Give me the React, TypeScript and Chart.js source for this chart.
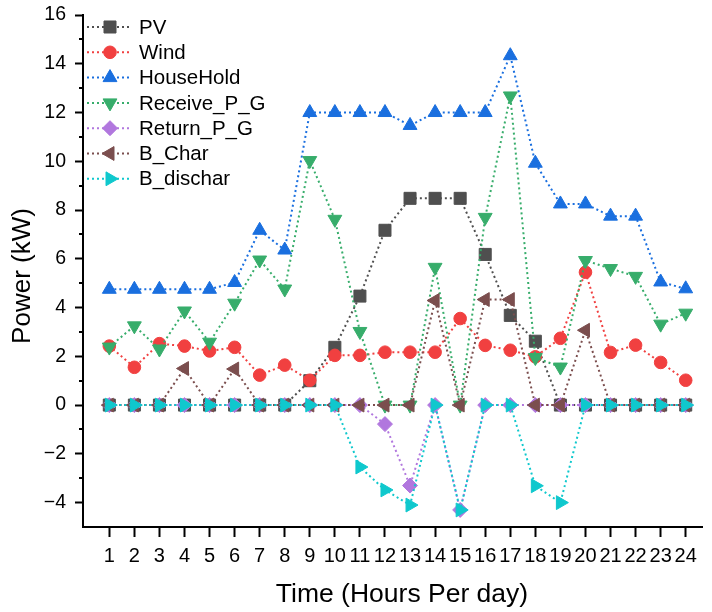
import React, { useEffect, useRef } from 'react';
import { Chart, registerables } from 'chart.js';
import { drawPoint } from 'chart.js/helpers';

Chart.register(...registerables);

// ---------- data ----------
const hours = [1, 2, 3, 4, 5, 6, 7, 8, 9, 10, 11, 12, 13, 14, 15, 16, 17, 18, 19, 20, 21, 22, 23, 24];

const pv = [0, 0, 0, 0, 0, 0, 0, 0, 1.0, 2.37, 4.47, 7.17, 8.48, 8.48, 8.48, 6.18, 3.68, 2.62, 0, 0, 0, 0, 0, 0];
const wind = [2.42, 1.55, 2.52, 2.42, 2.22, 2.37, 1.23, 1.64, 1.02, 2.04, 2.04, 2.17, 2.17, 2.17, 3.55, 2.45, 2.25, 1.98, 2.74, 5.45, 2.16, 2.46, 1.75, 1.02];
const houseHold = [4.75, 4.75, 4.75, 4.75, 4.75, 5.03, 7.17, 6.36, 12.0, 12.0, 12.0, 12.0, 11.47, 12.0, 12.0, 12.0, 14.33, 9.92, 8.25, 8.25, 7.75, 7.75, 5.05, 4.77];
const receivePG = [2.38, 3.25, 2.3, 3.86, 2.58, 4.18, 5.95, 4.76, 10.03, 7.62, 3.02, 0, 0, 5.65, 0, 7.7, 12.68, 1.95, 1.56, 5.93, 5.6, 5.28, 3.32, 3.77];
const returnPG = [0, 0, 0, 0, 0, 0, 0, 0, 0, 0, 0, -0.78, -3.3, 0, -4.3, 0, 0, 0, 0, 0, 0, 0, 0, 0];
const bChar = [0, 0, 0, 1.5, 0, 1.48, 0, 0, 0, 0, 0, 0, 0, 4.29, 0, 4.33, 4.33, 0, 0, 3.07, 0, 0, 0, 0];
const bDischar = [0, 0, 0, 0, 0, 0, 0, 0, 0, 0, -2.54, -3.48, -4.1, 0, -4.3, 0, 0, -3.31, -4.0, 0, 0, 0, 0, 0];

const seriesNames = ['PV', 'Wind', 'HouseHold', 'Receive_P_G', 'Return_P_G', 'B_Char', 'B_dischar'];
const seriesValues = [pv, wind, houseHold, receivePG, returnPG, bChar, bDischar];

const yTickValues = [-4, -2, 0, 2, 4, 6, 8, 10, 12, 14, 16];
const yMinorValues = [-3, -1, 1, 3, 5, 7, 9, 11, 13, 15];

const xTitle = 'Time (Hours Per day)';
const yTitle = 'Power (kW)';

// ---------- styles ----------
const colors = ['#4f4f4f', '#f14040', '#1a6fdf', '#37ad6b', '#b177de', '#7b4e4e', '#0fc8cd'];
const pointStyles = ['rect', 'circle', 'triangle', 'triangle', 'rectRot', 'triangle', 'triangle'];
const rotations = [0, 0, 0, 180, 0, -90, 90];
const radii = [8.5, 6.3, 8, 8, 7.5, 8, 8];
const FONT = "'Liberation Sans', Arial, Helvetica, sans-serif";

const customPlugin = {
  id: 'customDecor',
  afterDraw(chart: any) {
    const { ctx, chartArea } = chart;
    const y = chart.scales.y;
    ctx.save();
    // minor ticks on y axis
    ctx.strokeStyle = '#000';
    ctx.lineWidth = 2;
    yMinorValues.forEach((v) => {
      const py = Math.round(y.getPixelForValue(v));
      ctx.beginPath();
      ctx.moveTo(chartArea.left - 4, py);
      ctx.lineTo(chartArea.left, py);
      ctx.stroke();
    });
    // axis titles
    ctx.fillStyle = '#000';
    ctx.textAlign = 'center';
    ctx.textBaseline = 'middle';
    ctx.font = `26.5px ${FONT}`;
    ctx.fillText(xTitle, 402, 595);
    ctx.save();
    ctx.translate(23, 276);
    ctx.rotate(-Math.PI / 2);
    ctx.font = `26px ${FONT}`;
    ctx.fillText(yTitle, 0, 0);
    ctx.restore();
    // legend
    seriesNames.forEach((name, i) => {
      const ly = 27 + i * 25.3;
      ctx.strokeStyle = colors[i];
      ctx.lineWidth = 2;
      ctx.setLineDash([2, 3]);
      ctx.beginPath();
      ctx.moveTo(87, ly);
      ctx.lineTo(132, ly);
      ctx.stroke();
      ctx.setLineDash([]);
      ctx.fillStyle = colors[i];
      ctx.strokeStyle = colors[i];
      ctx.lineWidth = 1;
      drawPoint(ctx, { pointStyle: pointStyles[i] as any, rotation: rotations[i], radius: radii[i], borderWidth: 1 }, 110, ly);
      ctx.fillStyle = '#000';
      ctx.font = `20.5px ${FONT}`;
      ctx.textBaseline = 'middle';
      ctx.textAlign = 'left';
      ctx.fillText(name, 139, ly + 1);
    });
    ctx.restore();
  },
};

export default function App() {
  const ref = useRef<HTMLCanvasElement>(null);

  useEffect(() => {
    if (!ref.current) return;
    const chart = new Chart(ref.current, {
      type: 'line',
      data: {
        datasets: seriesNames.map((name, i) => ({
          label: name,
          data: hours.map((h, j) => ({ x: h, y: seriesValues[i][j] })),
          borderColor: colors[i],
          backgroundColor: colors[i],
          borderWidth: 2,
          borderDash: [2, 3],
          pointStyle: pointStyles[i] as any,
          pointRotation: rotations[i],
          pointRadius: radii[i],
          pointHoverRadius: radii[i],
          pointBorderWidth: 1,
          pointBackgroundColor: colors[i],
          pointBorderColor: colors[i],
          order: 6 - i,
          tension: 0,
          fill: false,
        })),
      },
      options: {
        animation: false,
        responsive: false,
        devicePixelRatio: 1,
        layout: { padding: { top: 15, left: 0, right: 0, bottom: 0 } },
        plugins: {
          legend: { display: false },
          tooltip: { enabled: false },
        },
        events: [],
        scales: {
          x: {
            type: 'linear',
            min: -0.05,
            max: 24.67,
            afterBuildTicks: (s: any) => {
              s.ticks = hours.map((v) => ({ value: v }));
            },
            afterFit: (s: any) => {
              s.height = 85;
              s.paddingLeft = 0;
              s.paddingRight = 0;
            },
            ticks: {
              autoSkip: false,
              maxRotation: 0,
              minRotation: 0,
              color: '#000',
              font: { family: FONT, size: 20 },
              padding: 7,
              callback: (v: any) => String(v),
            },
            grid: {
              display: true,
              drawOnChartArea: false,
              drawTicks: true,
              tickLength: 10,
              tickWidth: 2,
              tickColor: '#000',
            },
            border: { display: true, color: '#000', width: 2 },
            title: { display: false },
          },
          y: {
            type: 'linear',
            min: -5,
            max: 16,
            afterBuildTicks: (s: any) => {
              s.ticks = yTickValues.map((v) => ({ value: v }));
            },
            afterFit: (s: any) => {
              s.width = 83;
              s.paddingTop = 0;
              s.paddingBottom = 0;
            },
            ticks: {
              color: '#000',
              font: { family: FONT, size: 19.5 },
              padding: 9,
              callback: (v: any) => (v < 0 ? '\u2212' + Math.abs(v) : String(v)),
            },
            grid: {
              display: true,
              drawOnChartArea: false,
              drawTicks: true,
              tickLength: 8,
              tickWidth: 2,
              tickColor: '#000',
            },
            border: { display: true, color: '#000', width: 2 },
            title: { display: false },
          },
        },
      },
      plugins: [customPlugin],
    } as any);
    return () => chart.destroy();
  }, []);

  return (
    <div style={{ position: 'absolute', left: 0, top: 0, width: 712, height: 612, background: '#fff' }}>
      <canvas ref={ref} width={712} height={612} style={{ display: 'block', width: 712, height: 612 }} />
    </div>
  );
}
